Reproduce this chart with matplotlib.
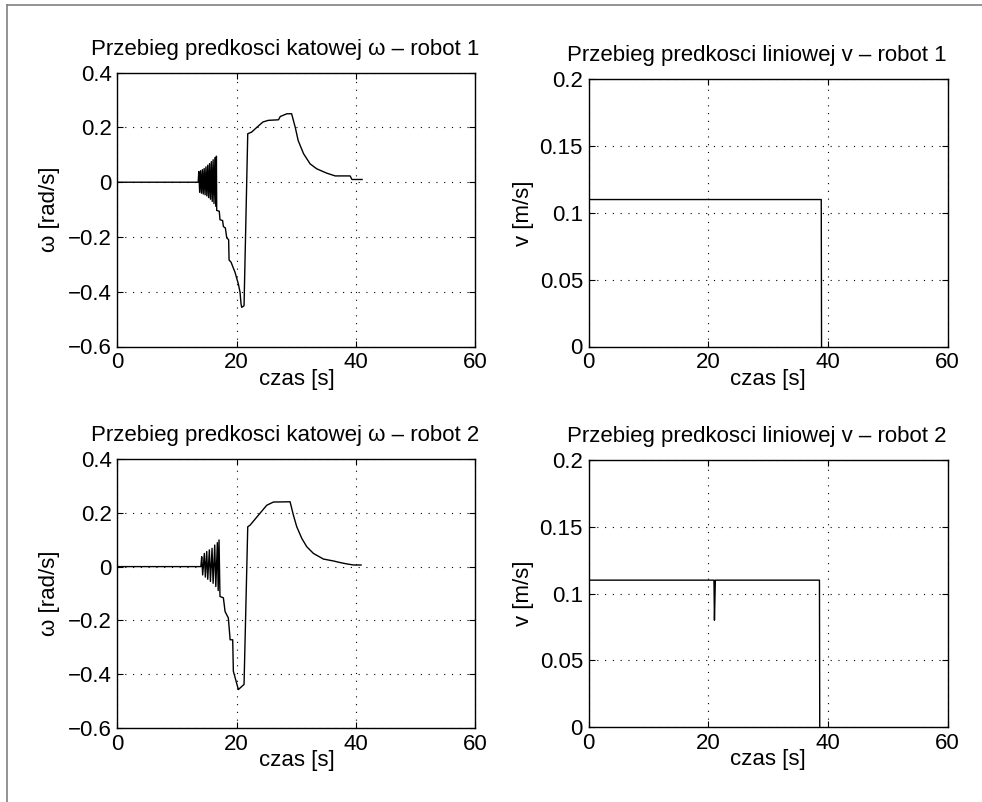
import matplotlib
matplotlib.use('Agg')
import matplotlib.pyplot as plt
from matplotlib.lines import Line2D

plt.rcParams['font.family'] = ['Liberation Sans', 'DejaVu Sans']
plt.rcParams['axes.unicode_minus'] = True

# predkosc katowa - robot 1
t_w1 = [0, 13.55, 13.65, 13.8, 13.95, 14.1, 14.25, 14.4, 14.55, 14.7, 14.85, 15.0,
        15.15, 15.3, 15.45, 15.6, 15.75, 15.9, 16.05, 16.2, 16.35, 16.5, 16.6,
        16.65, 17.08, 17.2, 17.64, 17.77, 18.1, 18.33, 18.65, 18.72, 19.05, 19.72,
        20.28, 20.56, 20.73, 20.84, 21.23, 21.85, 22.5, 23.4, 24.4, 25.3, 27.0,
        27.3, 28.4, 29.2, 29.8, 30.3, 31.2, 32.3, 33.4, 35.1, 36.5, 39.0, 39.3, 41.0]
w1 = [0, 0, 0.039, -0.037, 0.042, -0.040, 0.046, -0.043, 0.050, -0.046, 0.056, -0.050,
      0.062, -0.056, 0.068, -0.062, 0.075, -0.070, 0.082, -0.078, 0.090, -0.088, 0.095,
      -0.103, -0.106, -0.137, -0.140, -0.162, -0.167, -0.203, -0.210, -0.284, -0.292, -0.329,
      -0.372, -0.402, -0.445, -0.457, -0.451, 0.177, 0.183, 0.201, 0.220, 0.226, 0.228,
      0.240, 0.250, 0.250, 0.201, 0.152, 0.104, 0.067, 0.049, 0.033, 0.023, 0.023, 0.010, 0.010]

# predkosc katowa - robot 2
t_w2 = [0, 14.0, 14.14, 14.3, 14.58, 14.75, 14.98, 15.15, 15.42, 15.6, 15.87, 16.05,
        16.32, 16.5, 16.76, 16.9, 17.04, 17.2, 17.77, 18.05, 18.6, 18.9, 19.33, 19.44,
        20.28, 21.23, 21.85, 22.24, 23.63, 25.03, 26.15, 28.94, 29.5, 30.06, 30.9,
        31.73, 32.85, 34.53, 36.2, 37.32, 38.44, 39.56, 40.84]
w2 = [0, 0, 0.037, -0.031, 0.049, -0.039, 0.056, -0.047, 0.062, -0.055, 0.068, -0.062,
      0.080, -0.074, 0.089, -0.089, 0.099, -0.111, -0.116, -0.167, -0.191, -0.272, -0.272, -0.389,
      -0.457, -0.438, 0.148, 0.154, 0.191, 0.228, 0.240, 0.241, 0.191, 0.148, 0.105,
      0.074, 0.049, 0.028, 0.021, 0.015, 0.010, 0.006, 0.006]

# predkosc liniowa
t_v1 = [0, 0.1, 38.9, 38.95]
v1 = [0.09, 0.11, 0.11, 0]
t_v2 = [0, 0.1, 20.97, 21.05, 21.2, 38.6, 38.65]
v2 = [0.09, 0.11, 0.11, 0.08, 0.11, 0.11, 0]

x_ticks = [0, 20, 40, 60]
x_labels = ['0', '20', '40', '60']
w_ticks = [-0.6, -0.4, -0.2, 0, 0.2, 0.4]
w_labels = ['\u22120.6', '\u22120.4', '\u22120.2', '0', '0.2', '0.4']
v_ticks = [0, 0.05, 0.1, 0.15, 0.2]
v_labels = ['0', '0.05', '0.1', '0.15', '0.2']

W, H = 982, 802
fig = plt.figure(figsize=(W / 100, H / 100), dpi=100)

def box(l, t, r, b):
    return [l / W, 1 - b / H, (r - l) / W, (b - t) / H]

fs = 16
panels = [
    (box(117.3, 72.7, 475.5, 346.5), t_w1, w1, 'w', 'Przebieg predkosci katowej \u03c9 \u2013 robot 1', 91),
    (box(588.5, 79.3, 947.5, 346.5), t_v1, v1, 'v', 'Przebieg predkosci liniowej v \u2013 robot 1', 567),
    (box(117.3, 459, 475.5, 728), t_w2, w2, 'w', 'Przebieg predkosci katowej \u03c9 \u2013 robot 2', 91),
    (box(588.5, 460, 947.5, 727), t_v2, v2, 'v', 'Przebieg predkosci liniowej v \u2013 robot 2', 567),
]

for rect, tt, yy, kind, title, title_x in panels:
    ax = fig.add_axes(rect)
    ax.plot(tt, yy, color='black', lw=1.0)
    ax.set_xlim(0, 60)
    ax.set_xticks(x_ticks)
    ax.set_xticklabels(x_labels)
    if kind == 'w':
        ax.set_ylim(-0.6, 0.4)
        ax.set_yticks(w_ticks)
        ax.set_yticklabels(w_labels)
        ax.set_ylabel('\u03c9 [rad/s]', fontsize=fs, labelpad=6)
    else:
        ax.set_ylim(0, 0.2)
        ax.set_yticks(v_ticks)
        ax.set_yticklabels(v_labels)
        ax.set_ylabel('v [m/s]', fontsize=fs, labelpad=4)
    ax.set_xlabel('czas [s]', fontsize=fs, labelpad=-3)
    ax.grid(True, color='black', linestyle=(0, (1, 6)), linewidth=0.8)
    ax.tick_params(direction='in', length=4, width=0.8, labelsize=fs,
                   top=True, right=True, pad=4)
    for s in ax.spines.values():
        s.set_linewidth(1.0)
    x0 = rect[0] * W
    w = rect[2] * W
    hpx = rect[3] * H
    ax.text((title_x - x0) / w, 1 + 18 / hpx, title, transform=ax.transAxes,
            ha='left', va='baseline', fontsize=fs)

# ramka okna
fig.add_artist(Line2D([6.5 / W, 6.5 / W], [0, 1 - 5 / H], transform=fig.transFigure,
                      color='#808080', lw=1.2))
fig.add_artist(Line2D([6.5 / W, 1], [1 - 5 / H, 1 - 5 / H], transform=fig.transFigure,
                      color='#808080', lw=1.2))

fig.savefig('out.png', dpi=100)
